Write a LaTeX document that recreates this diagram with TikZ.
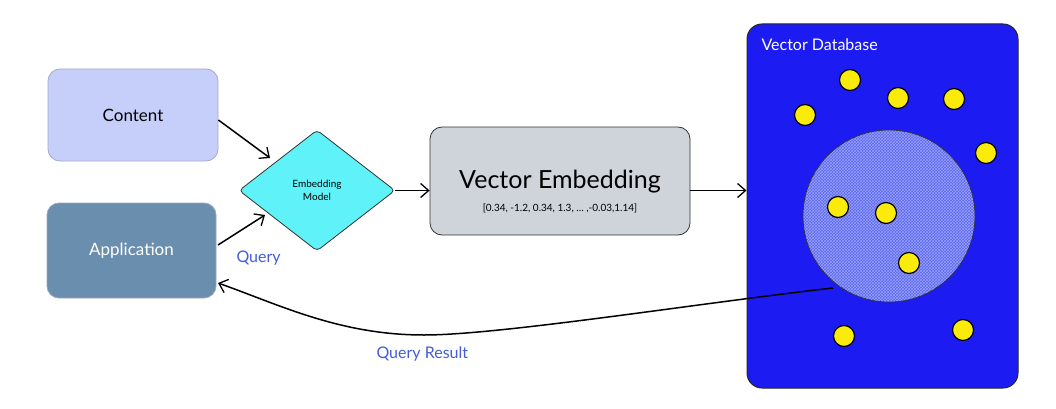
\documentclass[tikz,border=0pt]{standalone}
\usepackage{fontspec}
\setmainfont{Lato}
\usetikzlibrary{shapes.geometric,arrows.meta,patterns}
\definecolor{contentfill}{RGB}{198,207,250}
\definecolor{contentdraw}{RGB}{165,170,200}
\definecolor{appfill}{RGB}{106,142,174}
\definecolor{diamfill}{RGB}{96,242,249}
\definecolor{embfill}{RGB}{206,212,218}
\definecolor{dbfill}{RGB}{28,28,242}
\definecolor{circfill}{RGB}{92,102,240}
\definecolor{hatch}{RGB}{150,160,252}
\definecolor{dotfill}{RGB}{250,235,10}
\definecolor{labelblue}{RGB}{66,92,220}
\begin{document}
\begin{tikzpicture}[x=1pt,y=-1pt,
  box/.style={draw, rounded corners=12pt, line width=0.8pt, minimum width=170pt, minimum height=92pt, inner sep=0pt},
  conn/.style={line width=1.5pt, -{Straight Barb[length=8pt,width=14pt,line width=1.3pt]}},
  dot/.style={circle, draw=black, line width=1.2pt, fill=dotfill, minimum size=21pt, inner sep=0pt},
  lbl/.style={text=labelblue, font=\fontsize{16}{18}\selectfont}
]
\useasboundingbox (0,0) rectangle (1056,409);
% Left boxes
\node[box, fill=contentfill, draw=contentdraw, font=\fontsize{17}{20}\selectfont] (content) at (133,115) {Content};
\node[box, fill=appfill, draw=contentdraw!80!appfill, minimum width=169pt, minimum height=95pt, text=white, font=\fontsize{17}{20}\selectfont] (app) at (131.5,250.5) {Application};
% Diamond
\node[diamond, draw=black!80, line width=0.8pt, fill=diamfill, rounded corners=4pt, minimum width=156pt, minimum height=121pt, inner sep=0pt, align=center, font=\fontsize{10}{13}\selectfont] (model) at (317,190.5) {Embedding\\Model};
% Vector embedding box
\node[box, fill=embfill, draw=black!80, minimum width=260pt, minimum height=108pt] (emb) at (560,181) {};
\node[font=\fontsize{25}{28}\selectfont] (embt) at (560,182) {Vector Embedding};
\node[font=\fontsize{10}{12}\selectfont] (embv) at (560,208) {[0.34, -1.2, 0.34, 1.3, \dots\ ,-0.03,1.14]};
% Database
\node[draw=black!85, line width=1pt, fill=dbfill, rounded corners=15pt, minimum width=271pt, minimum height=364pt, inner sep=0pt] (db) at (882.5,206) {};
\node[anchor=west, text=white, font=\fontsize{16}{18}\selectfont] (dbt) at (758,45) {Vector Database};
% Cluster circle
\node[circle, draw=black!80, line width=0.8pt, fill=circfill, minimum size=172pt, inner sep=0pt] (clus) at (889,216) {};
\fill[pattern=crosshatch, pattern color=hatch] (clus.center) circle (85.5pt);
% Dots
\foreach \i/\p in {1/{(850,80)},2/{(898,98)},3/{(954,99)},4/{(805,115)},5/{(986,153)},6/{(838,207)},7/{(886,213)},8/{(909,263)},9/{(844,336)},10/{(963,330)}}
  \node[dot] (d\i) at \p {};
% Connectors
\draw[conn] (content.east) ++(0,5) coordinate (c1) -- (270,158) coordinate (c1e);
\draw[conn] (218,245) coordinate (a1) -- (265,215) coordinate (a1e);
\draw[conn] (model.east) -- (model.east -| emb.west);
\draw[conn] (emb.east |- model.east) -- (model.east -| db.west);
\coordinate (rs) at (833,288);
\coordinate (rm) at (424,335);
\coordinate (re) at (218,283);
\draw[conn] (rs) .. controls (700,303) and (500,335) .. (rm) .. controls (340,335) and (280,305) .. (re);
% Labels
\node[lbl, anchor=west] (q) at (233,258) {Query};
\node[lbl, anchor=west] (qr) at (373,354) {Query Result};
\end{tikzpicture}
\end{document}
